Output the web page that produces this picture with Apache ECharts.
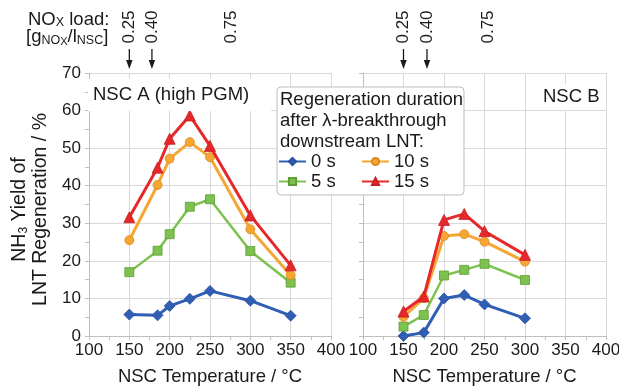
<!DOCTYPE html>
<html><head><meta charset="utf-8">
<script src="https://cdn.jsdelivr.net/npm/echarts@6/dist/echarts.min.js"></script>
<style>html,body{margin:0;padding:0;background:#fff}#c{width:619px;height:388px}</style>
</head><body><div id="c"></div>
<script>
// ---- data ----
const seriesNames = ['0 s', '5 s', '10 s', '15 s'];
const tempsA = [150, 185, 200, 225, 250, 300, 350];
const nscA_0s  = [5.7, 5.5, 8.0, 9.9, 12.0, 9.4, 5.4];
const nscA_5s  = [17.0, 22.7, 27.1, 34.4, 36.4, 22.6, 14.2];
const nscA_10s = [25.5, 40.2, 47.2, 51.6, 47.6, 28.4, 16.2];
const nscA_15s = [31.6, 44.8, 52.5, 58.7, 50.6, 32.1, 18.8];
const tempsB = [150, 175, 200, 225, 250, 300];
const nscB_0s  = [0.0, 0.9, 10.0, 10.9, 8.4, 4.7];
const nscB_5s  = [2.5, 5.6, 16.1, 17.6, 19.2, 14.9];
const nscB_10s = [5.1, 10.1, 26.6, 27.1, 25.1, 19.8];
const nscB_15s = [6.5, 10.5, 30.9, 32.5, 27.9, 21.6];
const xTicks = [100, 150, 200, 250, 300, 350, 400];
const yTicks = [0, 10, 20, 30, 40, 50, 60, 70];
const loadLabels = ['0.25', '0.40', '0.75'];
const loadTempsA = [150, 178, 277];
const loadTempsB = [150, 179, 255];
const loadArrows = [true, true, false];

// ---- styles ----
const FONT = "'Liberation Sans', Arial, sans-serif";
const styles = [
  {color: '#2F5EB4', border: '#2A529E', symbol: 'diamond', size: 11, width: 3},
  {color: '#7DC24E', border: '#5E9E36', symbol: 'rect', size: 9, width: 2.5},
  {color: '#F6A733', border: '#D98A1C', symbol: 'circle', size: 9, width: 3},
  {color: '#E6282B', border: '#C81E22', symbol: 'triangle', size: 11, width: 3}
];
const dataA = [nscA_0s, nscA_5s, nscA_10s, nscA_15s];
const dataB = [nscB_0s, nscB_5s, nscB_10s, nscB_15s];

function mkSeries(temps, arr, axisIdx) {
  return arr.map((vals, i) => ({
    name: seriesNames[i], type: 'line', xAxisIndex: axisIdx, yAxisIndex: axisIdx,
    data: temps.map((t, k) => [t, vals[k]]),
    symbol: styles[i].symbol, symbolSize: styles[i].size,
    lineStyle: {color: styles[i].color, width: styles[i].width},
    itemStyle: {color: styles[i].color, borderColor: styles[i].border, borderWidth: 0.8},
    emphasis: {disabled: true}, animation: false, z: 2 + i * 0.1
  }));
}

function xAxis(idx) {
  return {
    type: 'value', gridIndex: idx, min: xTicks[0], max: xTicks[xTicks.length - 1], interval: 50,
    name: 'NSC Temperature / °C', nameLocation: 'middle', nameGap: 31,
    nameTextStyle: {fontFamily: FONT, fontSize: 18.5, color: '#1a1a1a'},
    axisLine: {show: true, onZero: false, lineStyle: {color: '#bfbfbf', width: 1}},
    axisTick: {show: true, length: 4, lineStyle: {color: '#bfbfbf'}},
    minorTick: {show: true, splitNumber: 2, length: 4, lineStyle: {color: '#bfbfbf'}},
    axisLabel: {fontFamily: FONT, fontSize: 17, color: '#1a1a1a', margin: 6, showMinLabel: true, showMaxLabel: true},
    splitLine: {show: true, lineStyle: {color: '#d9d9d9', width: 1}}
  };
}
function yAxis(idx, labels) {
  const a = {
    type: 'value', gridIndex: idx, min: yTicks[0], max: yTicks[yTicks.length - 1], interval: 10,
    axisLine: {show: true, lineStyle: {color: '#bfbfbf', width: 1}},
    axisTick: {show: true, length: 4, lineStyle: {color: '#bfbfbf'}},
    minorTick: {show: true, splitNumber: 2, length: 4, lineStyle: {color: '#bfbfbf'}},
    axisLabel: {show: labels, fontFamily: FONT, fontSize: 17, color: '#1a1a1a', margin: 8},
    splitLine: {show: true, lineStyle: {color: '#d9d9d9', width: 1}}
  };
  if (labels) {
    a.name = 'NH{sub|3} Yield of\nLNT Regeneration / %';
    a.nameLocation = 'middle';
    a.nameGap = 38;
    a.nameTextStyle = {fontFamily: FONT, fontSize: 19.5, lineHeight: 21, color: '#1a1a1a', padding: [0, 10, 0, 0],
      rich: {sub: {fontFamily: FONT, fontSize: 12, verticalAlign: 'bottom', color: '#1a1a1a'}}};
  }
  return a;
}

const chart = echarts.init(document.getElementById('c'), null, {renderer: 'canvas'});
const legendText = {fontFamily: FONT, fontSize: 18.5, color: '#1a1a1a'};
chart.setOption({
  animation: false,
  backgroundColor: '#fff',
  grid: [
    {left: 89, right: 288, top: 73, bottom: 52, containLabel: false, outerBoundsMode: 'none'},
    {left: 363, right: 13, top: 73, bottom: 52, containLabel: false, outerBoundsMode: 'none'}
  ],
  xAxis: [xAxis(0), xAxis(1)],
  yAxis: [yAxis(0, true), yAxis(1, false)],
  title: [
    {text: 'NSC A (high PGM)', left: 88, top: 79, padding: [6, 22, 7, 5], backgroundColor: '#fff',
     textStyle: {fontFamily: FONT, fontSize: 18.5, fontWeight: 'normal', color: '#1a1a1a'}},
    {text: 'NSC B', left: 537, top: 84, padding: [3, 6, 4, 6], backgroundColor: '#fff',
     textStyle: {fontFamily: FONT, fontSize: 18.5, fontWeight: 'normal', color: '#1a1a1a'}}
  ],
  legend: [
    {data: ['0 s', '5 s'], orient: 'vertical', left: 278, top: 152, padding: 0, itemGap: 1, itemWidth: 27, itemHeight: 9,
     textStyle: legendText, z: 6, selectedMode: false},
    {data: ['10 s', '15 s'], orient: 'vertical', left: 361, top: 152, padding: 0, itemGap: 1, itemWidth: 27, itemHeight: 9,
     textStyle: legendText, z: 6, selectedMode: false}
  ],
  series: [...mkSeries(tempsA, dataA, 0), ...mkSeries(tempsB, dataB, 1)]
});

// ---- annotations (positions from axis scale) ----
const g = [];
g.push({type: 'rect', shape: {x: 277, y: 87, width: 187, height: 108, r: 4},
  style: {fill: '#fff', stroke: '#bdbdbd', lineWidth: 1}, z: 4});
['Regeneration duration', 'after λ-breakthrough', 'downstream LNT:'].forEach((t, i) => {
  g.push({type: 'text', x: 280, y: 100 + i * 21, z: 5,
    style: {text: t, font: '18.5px ' + FONT, fill: '#1a1a1a', textAlign: 'left', textVerticalAlign: 'middle'}});
});
g.push({type: 'text', x: 28, y: 20, z: 5,
  style: {text: 'NO{s|X} load:', font: '18.5px ' + FONT, fill: '#1a1a1a', textAlign: 'left', textVerticalAlign: 'middle',
    rich: {s: {fontSize: 12.5, fontFamily: FONT, verticalAlign: 'bottom', fill: '#1a1a1a'}}}});
g.push({type: 'text', x: 26, y: 37, z: 5,
  style: {text: '[g{s|NO}{ss|X}/l{s|NSC}]', font: '18.5px ' + FONT, fill: '#1a1a1a', textAlign: 'left', textVerticalAlign: 'middle',
    rich: {s: {fontSize: 12.5, fontFamily: FONT, verticalAlign: 'bottom', fill: '#1a1a1a', padding: [6, 0, 0, 0]},
           ss: {fontSize: 11, fontFamily: FONT, verticalAlign: 'bottom', fill: '#1a1a1a', padding: [10, 0, 0, 0]}}}});
function addLoads(temps, axisIdx) {
  temps.forEach((t, i) => {
    const px = chart.convertToPixel({xAxisIndex: axisIdx}, t);
    g.push({type: 'text', x: px, y: 27, rotation: Math.PI / 2, z: 5,
      style: {text: loadLabels[i], font: '17px ' + FONT, fill: '#1a1a1a', textAlign: 'center', textVerticalAlign: 'middle'}});
    if (loadArrows[i]) {
      g.push({type: 'line', shape: {x1: px, y1: 49, x2: px, y2: 61}, style: {stroke: '#1a1a1a', lineWidth: 1.3}, z: 5});
      g.push({type: 'polygon', shape: {points: [[px - 3.2, 60], [px + 3.2, 60], [px, 69]]}, style: {fill: '#1a1a1a'}, z: 5});
    }
  });
}
addLoads(loadTempsA, 0);
addLoads(loadTempsB, 1);
chart.setOption({graphic: g});
</script></body></html>
